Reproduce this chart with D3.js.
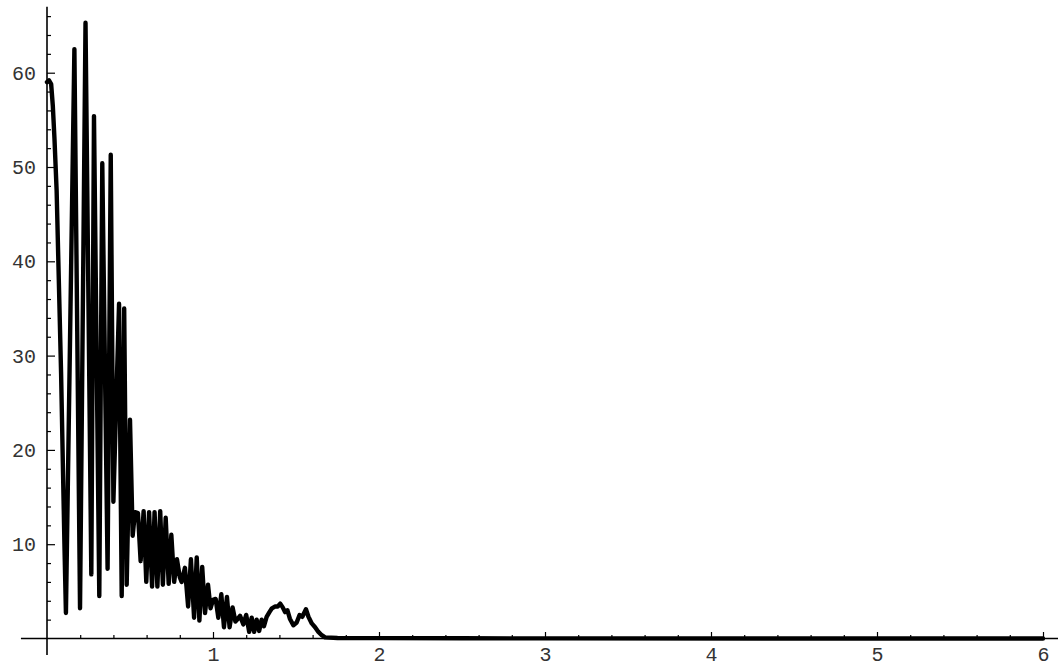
<!DOCTYPE html>
<html>
<head>
<meta charset="utf-8">
<script src="https://cdn.jsdelivr.net/npm/d3@7"></script>
<style>
  html, body { margin: 0; padding: 0; background: #fff; }
  svg { display: block; }
</style>
</head>
<body>
<svg id="chart" width="1058" height="666"></svg>
<script>
// Sampled curve: abscissae and ordinates
const xs = [
  0.000, 0.012, 0.025, 0.035, 0.045, 0.058, 0.085, 0.105, 0.114,
  0.165, 0.199, 0.232, 0.267, 0.283, 0.315, 0.333, 0.365, 0.384,
  0.400, 0.434, 0.450, 0.465, 0.480, 0.500, 0.516, 0.530, 0.548,
  0.564, 0.582, 0.598, 0.615, 0.633, 0.648, 0.665, 0.682, 0.698,
  0.715, 0.733, 0.749, 0.766, 0.783, 0.800, 0.811, 0.831, 0.850,
  0.867, 0.886, 0.902, 0.918, 0.935, 0.952, 0.970, 0.985, 1.000,
  1.016, 1.032, 1.050, 1.066, 1.084, 1.100, 1.118, 1.135, 1.150,
  1.163, 1.183, 1.200, 1.218, 1.233, 1.248, 1.263, 1.278, 1.293,
  1.307, 1.323, 1.340, 1.355, 1.375, 1.390, 1.405, 1.420, 1.434,
  1.448, 1.463, 1.484, 1.504, 1.522, 1.538, 1.560, 1.575, 1.595,
  1.615, 1.635, 1.655, 1.675, 1.750, 2.000, 2.500, 3.000, 6.000
];
const ys = [
  59.0, 59.2, 58.8, 56.5, 53.0, 47.5, 28.0, 10.0, 2.7,
  62.5, 3.2, 65.3, 6.8, 55.4, 4.5, 50.4, 7.4, 51.3,
  14.5, 35.5, 4.5, 35.0, 5.7, 23.2, 10.9, 13.4, 13.3,
  8.2, 13.5, 6.0, 13.4, 5.5, 13.4, 5.5, 13.5, 5.7,
  12.8, 5.8, 11.0, 6.0, 8.4, 6.5, 6.0, 7.5, 3.4,
  8.4, 2.2, 8.6, 1.9, 7.6, 2.7, 5.7, 3.2, 4.1,
  4.2, 2.2, 4.7, 1.2, 4.4, 1.2, 3.3, 1.8, 2.1,
  2.4, 1.5, 2.5, 0.7, 2.2, 0.7, 2.0, 0.8, 2.0,
  1.3, 2.3, 2.8, 3.2, 3.4, 3.4, 3.7, 3.3, 2.8,
  3.0, 2.1, 1.4, 1.7, 2.5, 2.3, 3.1, 2.3, 1.6,
  1.2, 0.7, 0.35, 0.12, 0.06, 0.04, 0.02, 0.01, 0.0
];

// Tick values
const xMajorTicks = [1, 2, 3, 4, 5, 6];
const xMinorTicks = d3.range(1, 30).map(i => i * 0.2).filter(v => Math.abs(v - Math.round(v)) > 1e-6);
const yMajorTicks = [10, 20, 30, 40, 50, 60];
const yMinorTicks = [2, 4, 6, 8, 12, 14, 16, 18, 22, 24, 26, 28, 32, 34, 36, 38,
                     42, 44, 46, 48, 52, 54, 56, 58, 62, 64, 66];

const svg = d3.select("#chart");

const x = d3.scaleLinear().domain([0, 6]).range([47, 1043]);
const y = d3.scaleLinear().domain([0, 67]).range([638.5, 6.7]);

const FONT = "'Liberation Mono', 'Courier New', monospace";

// Axis lines (extend slightly past the origin, as in the plot frame)
svg.append("line")
  .attr("x1", x(-0.157)).attr("x2", 1058)
  .attr("y1", y(0)).attr("y2", y(0))
  .attr("stroke", "#000").attr("stroke-width", 1.6);
svg.append("line")
  .attr("x1", x(0)).attr("x2", x(0))
  .attr("y1", y(67)).attr("y2", y(-1.75))
  .attr("stroke", "#000").attr("stroke-width", 1.6);

function styleAxis(g) {
  g.select(".domain").remove();
  g.selectAll(".tick line").attr("stroke", "#000").attr("stroke-width", 1.2);
  g.selectAll(".tick text")
    .attr("fill", "#333")
    .style("font-family", FONT)
    .style("font-size", "20px");
}

// x axis: minor then major ticks, pointing up
svg.append("g")
  .attr("transform", `translate(0,${y(0)})`)
  .call(d3.axisBottom(x).tickValues(xMinorTicks).tickSize(-3.5).tickFormat(""))
  .call(styleAxis);
svg.append("g")
  .attr("transform", `translate(0,${y(0)})`)
  .call(d3.axisBottom(x).tickValues(xMajorTicks).tickSize(-6.5).tickPadding(8).tickFormat(d3.format("d")))
  .call(styleAxis);

// y axis: ticks pointing right, labels on the left
svg.append("g")
  .attr("transform", `translate(${x(0)},0)`)
  .call(d3.axisLeft(y).tickValues(yMinorTicks).tickSize(-4).tickFormat(""))
  .call(styleAxis);
svg.append("g")
  .attr("transform", `translate(${x(0)},0)`)
  .call(d3.axisLeft(y).tickValues(yMajorTicks).tickSize(-8).tickPadding(11).tickFormat(d3.format("d")))
  .call(styleAxis);

// Curve
const pts = xs.map((v, i) => [v, ys[i]]);
const line = d3.line().x(d => x(d[0])).y(d => y(d[1]));
svg.append("path")
  .datum(pts)
  .attr("d", line)
  .attr("fill", "none")
  .attr("stroke", "#000")
  .attr("stroke-width", 4.4)
  .attr("stroke-linejoin", "round")
  .attr("stroke-linecap", "round");
</script>
</body>
</html>
